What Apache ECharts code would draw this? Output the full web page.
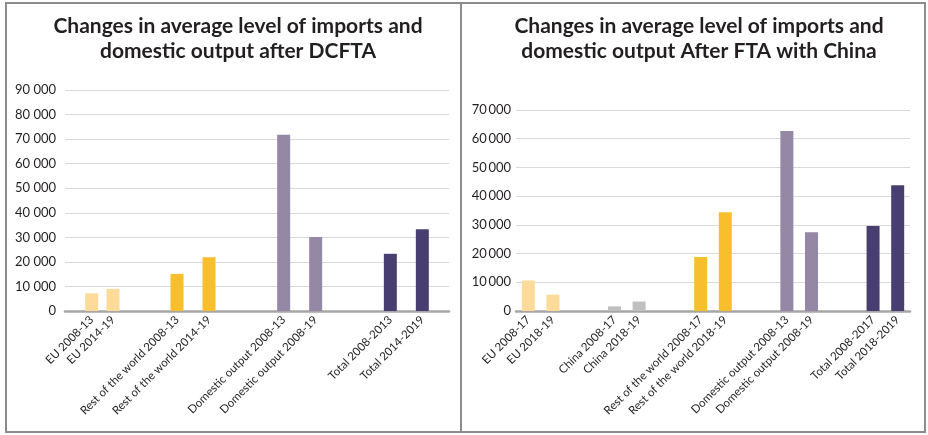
<!DOCTYPE html>
<html>
<head>
<meta charset="utf-8">
<script src="https://cdn.jsdelivr.net/npm/echarts@6/dist/echarts.min.js"></script>
<style>
html,body{margin:0;padding:0;background:#fff;}
#c{width:928px;height:435px;}
</style>
</head>
<body>
<div id="c"></div>
<script>
// ---- Data ----
const leftTitle = 'Changes in average level of imports and\ndomestic output after DCFTA';
const rightTitle = 'Changes in average level of imports and\ndomestic output After FTA with China';

// Left chart (blank entries are empty category slots between groups)
const leftCategories = ['', '', 'EU 2008-13', '', 'EU 2014-19', '', '', '', '', '',
  'Rest of the world 2008-13', '', '', 'Rest of the world 2014-19', '', '', '', '', '', '',
  'Domestic output 2008-13', '', '', 'Domestic output 2008-19', '', '', '', '', '', '',
  'Total 2008-2013', '', '', 'Total 2014-2019', '', ''];
const leftValues = [null, null, 7200, null, 9000, null, null, null, null, null,
  15100, null, null, 21900, null, null, null, null, null, null,
  71800, null, null, 30100, null, null, null, null, null, null,
  23300, null, null, 33300, null, null];
const leftGroups = ['', '', 'eu', '', 'eu', '', '', '', '', '',
  'row', '', '', 'row', '', '', '', '', '', '',
  'dom', '', '', 'dom', '', '', '', '', '', '',
  'tot', '', '', 'tot', '', ''];
const leftTicks = [0, 10000, 20000, 30000, 40000, 50000, 60000, 70000, 80000, 90000];

// Right chart
const rightCategories = ['', 'EU 2008-17', '', 'EU 2018-19', '', '', '', '',
  'China 2008-17', '', 'China 2018-19', '', '', '', '',
  'Rest of the world 2008-17', '', 'Rest of the world 2018-19', '', '', '', '',
  'Domestic output 2008-13', '', 'Domestic output 2008-19', '', '', '', '',
  'Total 2008-2017', '', 'Total 2018-2019', ''];
const rightValues = [null, 10600, null, 5700, null, null, null, null,
  1600, null, 3300, null, null, null, null,
  18800, null, 34400, null, null, null, null,
  62700, null, 27400, null, null, null, null,
  29600, null, 43800, null];
const rightGroups = ['', 'eu', '', 'eu', '', '', '', '',
  'cn', '', 'cn', '', '', '', '',
  'row', '', 'row', '', '', '', '',
  'dom', '', 'dom', '', '', '', '',
  'tot', '', 'tot', ''];
const rightTicks = [0, 10000, 20000, 30000, 40000, 50000, 60000, 70000];

const groupColors = {
  eu: '#FEDB98',
  cn: '#BFBFBF',
  row: '#F7BF2E',
  dom: '#9587A6',
  tot: '#483F70'
};

// ---- Chart ----
const FONT = 'Lato, "Noto Sans", sans-serif';
const TXT = '#231F20';

function buildData(values, groups) {
  return values.map((v, i) => v === null ? '-' : { value: v, itemStyle: { color: groupColors[groups[i]] } });
}
function fmt(sep) {
  return v => {
    if (v === 0) return '0';
    const s = String(v);
    return s.slice(0, s.length - 3) + sep + s.slice(s.length - 3);
  };
}

const chart = echarts.init(document.getElementById('c'), null, { renderer: 'canvas' });

chart.setOption({
  animation: false,
  backgroundColor: '#fff',
  title: [
    { text: leftTitle, left: 233, top: 9, textAlign: 'center',
      textStyle: { fontFamily: FONT, fontSize: 21, fontWeight: 'bold', color: TXT, lineHeight: 25 } },
    { text: rightTitle, left: 694, top: 9, textAlign: 'center',
      textStyle: { fontFamily: FONT, fontSize: 21, fontWeight: 'bold', color: TXT, lineHeight: 25 } }
  ],
  graphic: [
    { type: 'rect', shape: { x: 6, y: 3, width: 455, height: 429 },
      style: { fill: 'none', stroke: '#8C8C8C', lineWidth: 2 }, silent: true },
    { type: 'rect', shape: { x: 461, y: 3, width: 464, height: 429 },
      style: { fill: 'none', stroke: '#8C8C8C', lineWidth: 2 }, silent: true }
  ],
  grid: [
    { left: 65, right: 479, top: 90, bottom: 124 },
    { left: 516, right: 18, top: 110, bottom: 124 }
  ],
  xAxis: [
    { type: 'category', gridIndex: 0, data: leftCategories, boundaryGap: true,
      axisTick: { show: false },
      axisLine: { lineStyle: { color: '#A6A6A6', width: 2.5 } },
      axisLabel: { interval: 0, rotate: 45, margin: 7, fontFamily: FONT, fontSize: 11.5, color: TXT } },
    { type: 'category', gridIndex: 1, data: rightCategories, boundaryGap: false,
      axisTick: { show: false },
      axisLine: { lineStyle: { color: '#A6A6A6', width: 2.5 } },
      axisLabel: { interval: 0, rotate: 45, margin: 7, fontFamily: FONT, fontSize: 11.5, color: TXT } }
  ],
  yAxis: [
    { type: 'value', gridIndex: 0, min: leftTicks[0], max: leftTicks[leftTicks.length - 1],
      interval: leftTicks[1] - leftTicks[0],
      axisLine: { show: false }, axisTick: { show: false },
      splitLine: { lineStyle: { color: '#D9D9D9', width: 1 } },
      axisLabel: { margin: 9, fontFamily: FONT, fontSize: 13, color: TXT, formatter: fmt(' ') } },
    { type: 'value', gridIndex: 1, min: rightTicks[0], max: rightTicks[rightTicks.length - 1],
      interval: rightTicks[1] - rightTicks[0],
      axisLine: { show: false }, axisTick: { show: false },
      splitLine: { lineStyle: { color: '#D9D9D9', width: 1 } },
      axisLabel: { margin: 5, fontFamily: FONT, fontSize: 13, color: TXT, formatter: fmt('\u2009') } }
  ],
  series: [
    { type: 'bar', xAxisIndex: 0, yAxisIndex: 0, barWidth: 13,
      data: buildData(leftValues, leftGroups) },
    { type: 'bar', xAxisIndex: 1, yAxisIndex: 1, barWidth: 13,
      data: buildData(rightValues, rightGroups) }
  ]
});
</script>
</body>
</html>
